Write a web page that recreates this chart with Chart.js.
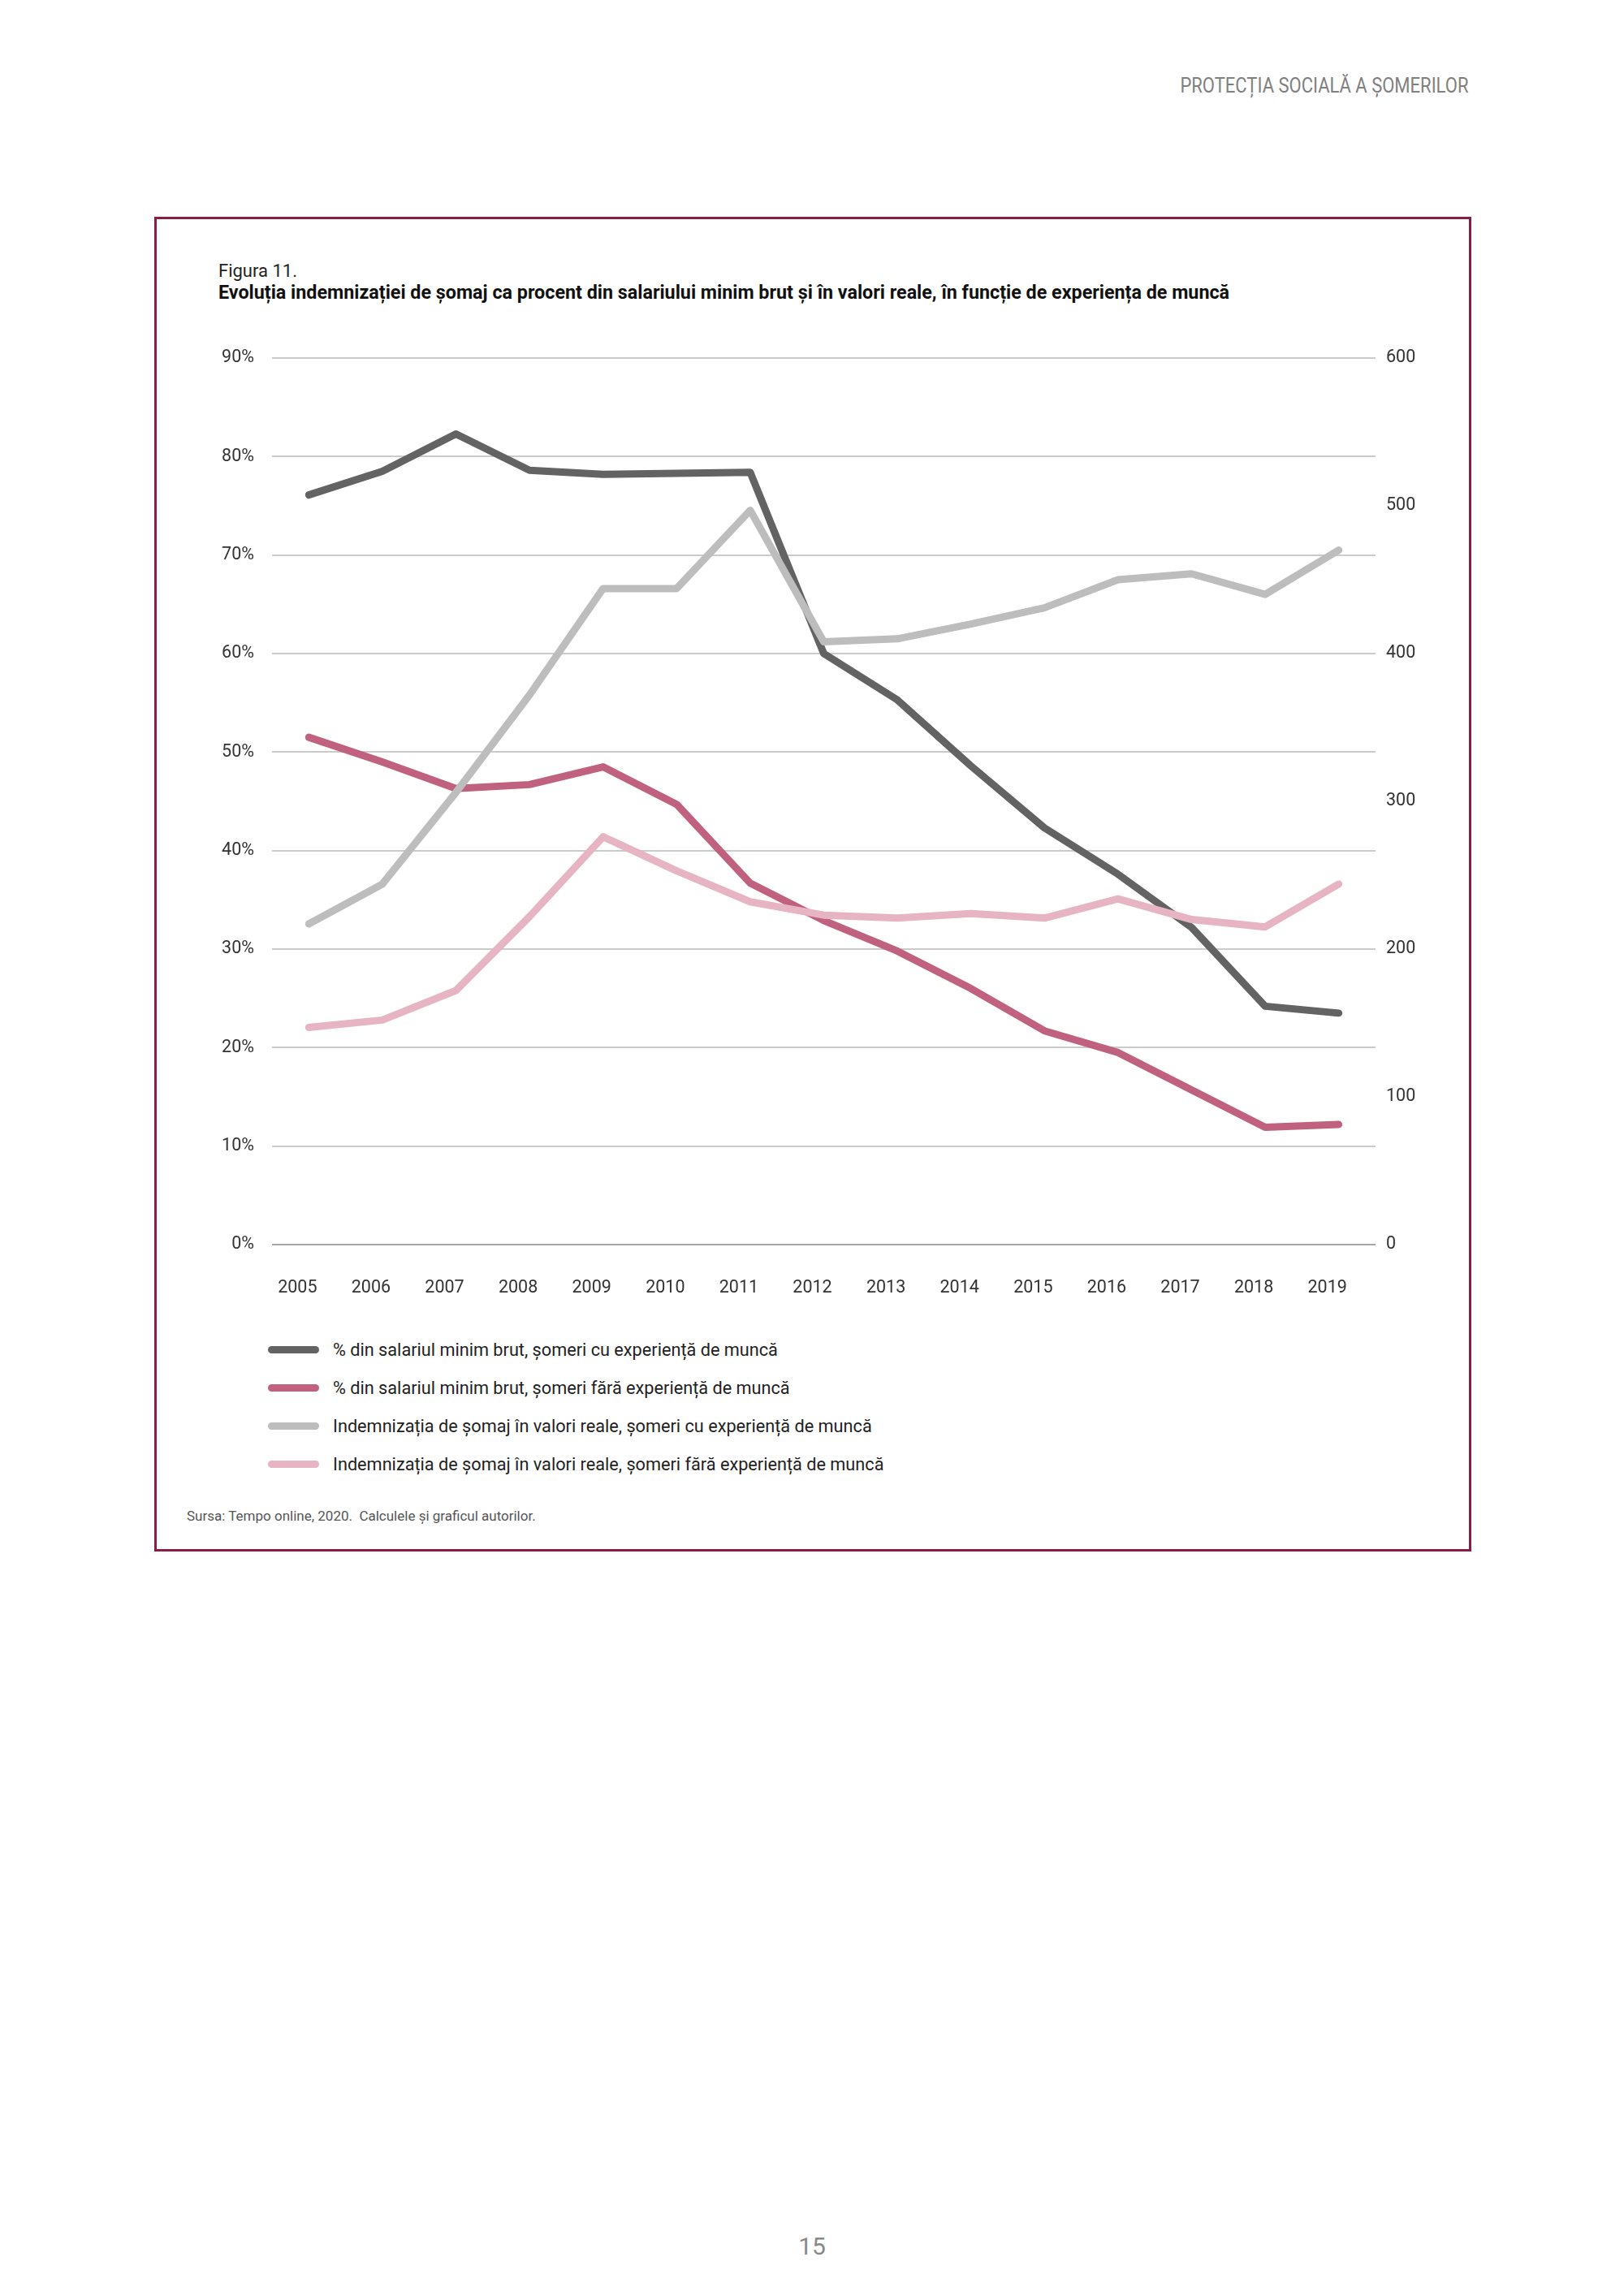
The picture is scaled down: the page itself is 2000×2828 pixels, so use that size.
<!DOCTYPE html>
<html>
<head>
<meta charset="utf-8">
<script src="https://cdn.jsdelivr.net/npm/chart.js@4.4.1/dist/chart.umd.min.js"></script>
<style>
  html, body { margin: 0; padding: 0; background: #fff; }
  body { width: 2000px; height: 2828px; position: relative; font-family: Roboto, "Noto Sans", sans-serif; color: #222; }
  .abs { position: absolute; white-space: nowrap; }
  #header { right: 192px; top: 91px; font-size: 25px; line-height: 30px; color: #808080; transform: scaleX(0.88); transform-origin: right center; }
  #frame { left: 190px; top: 267px; width: 1616px; height: 1638px; border: 3px solid #8c1d40; }
  #figNo { left: 269px; top: 322px; font-size: 22px; line-height: 24px; }
  #figTitle { left: 269px; top: 348px; font-size: 23.3px; line-height: 24px; font-weight: bold; color: #111; }
  #chartBox { left: 200px; top: 400px; width: 1600px; height: 1230px; }
  #legend { left: 330px; top: 1639px; }
  .item { height: 47px; display: flex; align-items: center; }
  .swatch { width: 63px; height: 9px; border-radius: 5px; margin-right: 17px; }
  .item span.txt { font-size: 21.7px; color: #222; }
  #source { left: 230px; top: 1856px; font-size: 17px; line-height: 22px; color: #555; }
  #pageNo { left: 0; width: 2000px; text-align: center; top: 2750px; font-size: 30px; line-height: 34px; color: #888; }
</style>
</head>
<body>
<div id="header" class="abs">PROTECȚIA SOCIALĂ A ȘOMERILOR</div>
<div id="frame" class="abs"></div>
<div id="figNo" class="abs">Figura 11.</div>
<div id="figTitle" class="abs">Evoluția indemnizației de șomaj ca procent din salariului minim brut și în valori reale, în funcție de experiența de muncă</div>
<div id="chartBox" class="abs"><canvas id="indemnChart" width="1600" height="1230"></canvas></div>
<div id="legend" class="abs"></div>
<div id="source" class="abs">Sursa: Tempo online, 2020.&nbsp; Calculele și graficul autorilor.</div>
<div id="pageNo" class="abs">15</div>

<script>
  // years on the x axis
  const years = ['2005', '2006', '2007', '2008', '2009', '2010', '2011', '2012',
                 '2013', '2014', '2015', '2016', '2017', '2018', '2019'];

  // % of gross minimum wage (left axis)
  const pctWithExp    = [76.1, 78.5, 82.3, 78.6, 78.2, 78.3, 78.4, 60.0, 55.3, 48.6, 42.3, 37.6, 32.2, 24.2, 23.5];
  const pctWithoutExp = [51.5, 49.0, 46.3, 46.7, 48.5, 44.7, 36.7, 32.9, 29.8, 26.0, 21.7, 19.5, 15.7, 11.9, 12.2];

  // benefit in real values (right axis)
  const realWithExp    = [217, 244, 306, 372, 444, 444, 497, 408, 410, 420, 431, 450, 454, 440, 470];
  const realWithoutExp = [147, 152, 172, 222, 276, 253, 232, 223, 221, 224, 221, 234, 220, 215, 244];

  // tick labels
  const leftTicks = [0, 10, 20, 30, 40, 50, 60, 70, 80, 90];
  const rightTicks = [0, 100, 200, 300, 400, 500, 600];

  const seriesNames = [
    '% din salariul minim brut, șomeri cu experiență de muncă',
    '% din salariul minim brut, șomeri fără experiență de muncă',
    'Indemnizația de șomaj în valori reale, șomeri cu experiență de muncă',
    'Indemnizația de șomaj în valori reale, șomeri fără experiență de muncă'
  ];
  const seriesColors = ['#636363', '#c0617f', '#bdbdbd', '#e6b4c3'];

  const tickFont = { family: 'Roboto', size: 21.5 };

  function lineSet(i, data, axis) {
    return {
      label: seriesNames[i],
      data: data,
      yAxisID: axis,
      borderColor: seriesColors[i],
      backgroundColor: seriesColors[i],
      borderWidth: 9,
      borderCapStyle: 'round',
      borderJoinStyle: 'round',
      pointRadius: 0,
      tension: 0,
      fill: false,
      order: 4 - i // later series drawn on top, like the original
    };
  }

  const ctx = document.getElementById('indemnChart').getContext('2d');
  const chart = new Chart(ctx, {
    type: 'line',
    data: {
      labels: years,
      datasets: [
        lineSet(0, pctWithExp, 'y'),
        lineSet(1, pctWithoutExp, 'y'),
        lineSet(2, realWithExp, 'y1'),
        lineSet(3, realWithoutExp, 'y1')
      ]
    },
    options: {
      responsive: false,
      animation: false,
      devicePixelRatio: 1,
      layout: { padding: { top: 41, left: 0, right: 0, bottom: 0 } },
      plugins: {
        legend: { display: false },
        tooltip: { enabled: false }
      },
      scales: {
        x: {
          offset: true,
          grid: { display: false },
          border: { display: false },
          ticks: { font: tickFont, color: '#333', padding: 33, labelOffset: -14, maxRotation: 0 },
          afterFit: function(s) { s.height = 97; }
        },
        y: {
          position: 'left',
          min: leftTicks[0],
          max: leftTicks[leftTicks.length - 1],
          border: { display: false },
          grid: {
            drawTicks: false,
            lineWidth: 2,
            color: function(c) { return c.tick && c.tick.value === 0 ? '#a6a6a6' : '#cbcbcb'; }
          },
          afterBuildTicks: function(s) { s.ticks = leftTicks.map(v => ({ value: v })); },
          ticks: {
            font: tickFont, color: '#333', padding: 22,
            callback: function(v) { return v + '%'; }
          },
          afterFit: function(s) { s.width = 135; }
        },
        y1: {
          position: 'right',
          min: rightTicks[0],
          max: rightTicks[rightTicks.length - 1],
          border: { display: false },
          grid: { display: false, drawTicks: false },
          afterBuildTicks: function(s) { s.ticks = rightTicks.map(v => ({ value: v })); },
          ticks: { font: tickFont, color: '#333', padding: 13 },
          afterFit: function(s) { s.width = 106; }
        }
      }
    }
  });

  // legend list under the chart, one row per series
  const legendBox = document.getElementById('legend');
  chart.data.datasets.forEach(function(ds) {
    const row = document.createElement('div');
    row.className = 'item';
    const sw = document.createElement('span');
    sw.className = 'swatch';
    sw.style.background = ds.borderColor;
    const txt = document.createElement('span');
    txt.className = 'txt';
    txt.textContent = ds.label;
    row.appendChild(sw);
    row.appendChild(txt);
    legendBox.appendChild(row);
  });
</script>
</body>
</html>
